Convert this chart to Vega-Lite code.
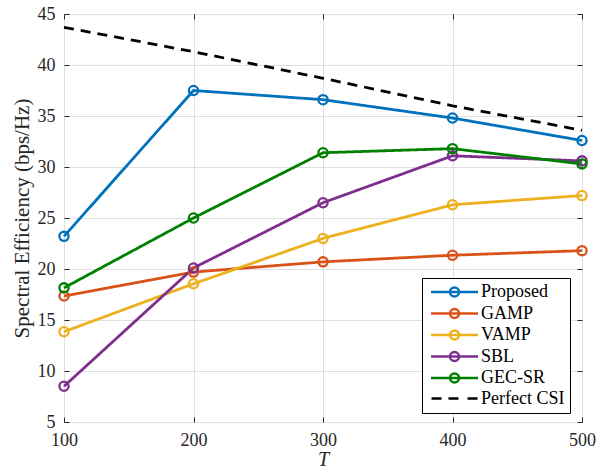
{
  "$schema": "https://vega.github.io/schema/vega-lite/v6.json",
  "width": 518,
  "height": 408,
  "autosize": {"type": "none"},
  "padding": {"left": 64, "top": 14, "right": 16, "bottom": 50},
  "config": {
    "font": "Liberation Serif",
    "view": {"stroke": "#262626", "strokeWidth": 1},
    "axis": {
      "domain": false,
      "grid": true,
      "gridColor": "#dfdfdf",
      "gridWidth": 1,
      "tickColor": "#262626",
      "tickSize": -5,
      "tickWidth": 1,
      "labelFlush": false,
      "labelFont": "Liberation Serif",
      "labelFontSize": 18,
      "labelColor": "#262626",
      "titleFont": "Liberation Serif",
      "titleFontSize": 20,
      "titleFontWeight": "normal",
      "titleColor": "#262626"
    },
    "legend": {
      "labelFont": "Liberation Serif",
      "labelFontSize": 18,
      "labelColor": "#000000"
    }
  },
  "data": {
    "values": [
      {"series": "Proposed", "T": 100, "SE": 23.2},
      {"series": "Proposed", "T": 200, "SE": 37.5},
      {"series": "Proposed", "T": 300, "SE": 36.6},
      {"series": "Proposed", "T": 400, "SE": 34.8},
      {"series": "Proposed", "T": 500, "SE": 32.6},
      {"series": "GAMP", "T": 100, "SE": 17.35},
      {"series": "GAMP", "T": 200, "SE": 19.7},
      {"series": "GAMP", "T": 300, "SE": 20.7},
      {"series": "GAMP", "T": 400, "SE": 21.35},
      {"series": "GAMP", "T": 500, "SE": 21.8},
      {"series": "VAMP", "T": 100, "SE": 13.85},
      {"series": "VAMP", "T": 200, "SE": 18.55},
      {"series": "VAMP", "T": 300, "SE": 23.0},
      {"series": "VAMP", "T": 400, "SE": 26.3},
      {"series": "VAMP", "T": 500, "SE": 27.2},
      {"series": "SBL", "T": 100, "SE": 8.5},
      {"series": "SBL", "T": 200, "SE": 20.1},
      {"series": "SBL", "T": 300, "SE": 26.5},
      {"series": "SBL", "T": 400, "SE": 31.1},
      {"series": "SBL", "T": 500, "SE": 30.6},
      {"series": "GEC-SR", "T": 100, "SE": 18.15},
      {"series": "GEC-SR", "T": 200, "SE": 25.0},
      {"series": "GEC-SR", "T": 300, "SE": 31.4},
      {"series": "GEC-SR", "T": 400, "SE": 31.8},
      {"series": "GEC-SR", "T": 500, "SE": 30.3},
      {"series": "Perfect CSI", "T": 100, "SE": 43.7},
      {"series": "Perfect CSI", "T": 200, "SE": 41.3},
      {"series": "Perfect CSI", "T": 300, "SE": 38.7},
      {"series": "Perfect CSI", "T": 400, "SE": 36.0},
      {"series": "Perfect CSI", "T": 500, "SE": 33.6}
    ]
  },
  "layer": [
    {
      "mark": {"type": "line", "strokeWidth": 2.8},
      "encoding": {
        "x": {
          "field": "T", "type": "quantitative",
          "scale": {"domain": [100, 500], "nice": false, "zero": false},
          "axis": {"values": [100, 200, 300, 400, 500], "title": "T", "titleFontStyle": "italic", "titleFontSize": 20, "labelPadding": 14, "titlePadding": 0, "orient": "bottom"}
        },
        "y": {
          "field": "SE", "type": "quantitative",
          "scale": {"domain": [5, 45], "nice": false, "zero": false},
          "axis": {"values": [5, 10, 15, 20, 25, 30, 35, 40, 45], "title": "Spectral Efficiency (bps/Hz)", "titleFontSize": 21, "labelPadding": 14, "titlePadding": 5, "orient": "left"}
        },
        "color": {
          "field": "series", "type": "nominal",
          "scale": {
            "domain": ["Proposed", "GAMP", "VAMP", "SBL", "GEC-SR", "Perfect CSI"],
            "range": ["#0072BD", "#D95319", "#EDB120", "#7E2F8E", "#008000", "#000000"]
          },
          "legend": {
            "title": null,
            "orient": "none",
            "legendX": 358,
            "legendY": 264,
            "padding": 5,
            "strokeColor": "#000000",
            "fillColor": "#ffffff",
            "symbolSize": 100,
            "symbolStrokeWidth": 2.5,
            "symbolFillColor": "transparent",
            "labelOffset": 36,
            "rowPadding": 1.5,
            "labelBaseline": "middle",
            "encode": {
              "symbols": {
                "update": {
                  "shape": {"signal": "datum.value === 'Perfect CSI' ? 'M-0.9,0L1.1,0M2.5,0L4.5,0M6.3,0L8.3,0' : 'M-1,0L8.4,0M2.8,0A0.9,0.9 0 1,1 4.6,0A0.9,0.9 0 1,1 2.8,0'"},
                  "fill": {"value": "transparent"},
                  "strokeWidth": {"value": 2.5}
                }
              }
            }
          }
        },
        "strokeDash": {
          "condition": {"test": "datum.series === 'Perfect CSI'", "value": [10, 7]},
          "value": [1, 0]
        }
      }
    },
    {
      "transform": [{"filter": "datum.series !== 'Perfect CSI'"}],
      "mark": {"type": "point", "filled": false, "size": 85, "strokeWidth": 2.3, "opacity": 1},
      "encoding": {
        "x": {
          "field": "T", "type": "quantitative",
          "axis": {"orient": "top", "values": [100, 200, 300, 400, 500], "labels": false, "grid": false, "title": null}
        },
        "y": {
          "field": "SE", "type": "quantitative",
          "axis": {"orient": "right", "values": [5, 10, 15, 20, 25, 30, 35, 40, 45], "labels": false, "grid": false, "title": null}
        },
        "color": {"field": "series", "type": "nominal"}
      }
    }
  ],
  "resolve": {"axis": {"x": "independent", "y": "independent"}}
}
